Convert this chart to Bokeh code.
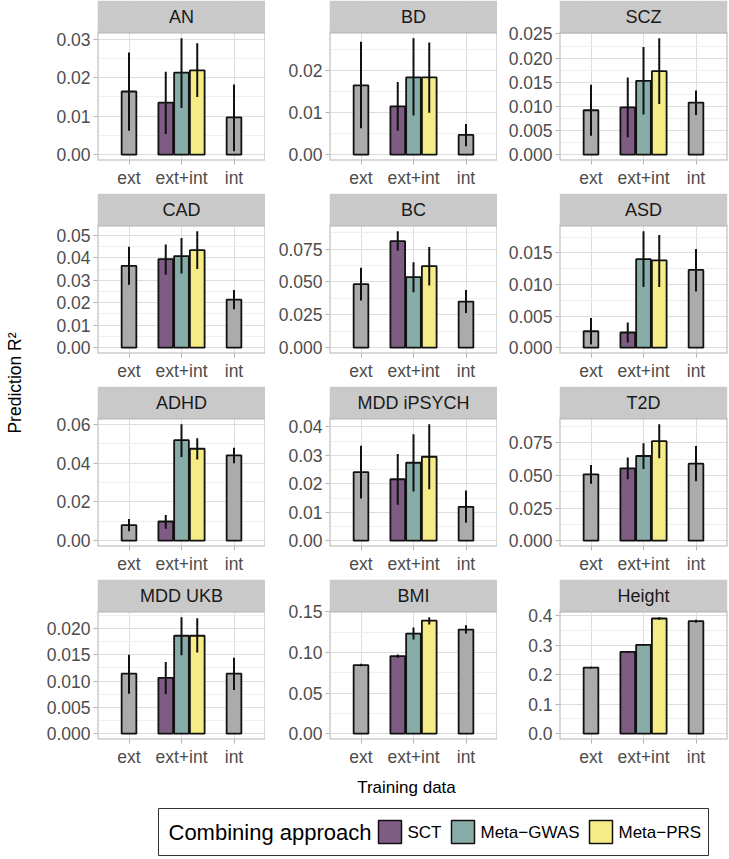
import math
from bokeh.plotting import figure
from bokeh.layouts import row, column
from bokeh.models import Range1d, FixedTicker, ColumnDataSource, PrintfTickFormatter
from bokeh.core.properties import value
from bokeh.embed import file_html
from bokeh.resources import INLINE

# ---------------- data ----------------
traits = ["AN", "BD", "SCZ", "CAD", "BC", "ASD",
          "ADHD", "MDD iPSYCH", "T2D", "MDD UKB", "BMI", "Height"]
categories = ["ext", "ext+int", "int"]
approaches = ["SCT", "Meta\u2212GWAS", "Meta\u2212PRS"]

ext_r2 = [0.0164, 0.0165, 0.0092, 0.0364, 0.0483, 0.0026, 0.0080, 0.0241, 0.0509, 0.0114, 0.0846, 0.224]
ext_lo = [0.0062, 0.0063, 0.0039, 0.0280, 0.0359, 0.0005, 0.0048, 0.0148, 0.0436, 0.0076, 0.0830, 0.221]
ext_hi = [0.0265, 0.0269, 0.0145, 0.0449, 0.0608, 0.0047, 0.0112, 0.0334, 0.0580, 0.0150, 0.0862, 0.227]

sct_r2 = [0.0135, 0.0115, 0.0098, 0.0394, 0.0810, 0.0024, 0.0099, 0.0216, 0.0555, 0.0106, 0.0956, 0.277]
sct_lo = [0.0054, 0.0057, 0.0036, 0.0325, 0.0738, 0.0008, 0.0061, 0.0126, 0.0471, 0.0075, 0.0932, 0.274]
sct_hi = [0.0215, 0.0173, 0.0160, 0.0459, 0.0885, 0.0040, 0.0133, 0.0305, 0.0638, 0.0136, 0.0977, 0.280]

metagwas_r2 = [0.0213, 0.0184, 0.0153, 0.0408, 0.0536, 0.0140, 0.0518, 0.0274, 0.0649, 0.0186, 0.1234, 0.301]
metagwas_lo = [0.0121, 0.0093, 0.0083, 0.0330, 0.0421, 0.0096, 0.0431, 0.0173, 0.0550, 0.0149, 0.1161, 0.298]
metagwas_hi = [0.0302, 0.0277, 0.0223, 0.0488, 0.0650, 0.0184, 0.0600, 0.0374, 0.0747, 0.0221, 0.1308, 0.304]

metaprs_r2 = [0.0219, 0.0184, 0.0173, 0.0434, 0.0620, 0.0138, 0.0474, 0.0295, 0.0763, 0.0186, 0.1394, 0.390]
metaprs_lo = [0.0150, 0.0100, 0.0105, 0.0350, 0.0473, 0.0096, 0.0418, 0.0181, 0.0631, 0.0154, 0.1345, 0.386]
metaprs_hi = [0.0289, 0.0267, 0.0241, 0.0518, 0.0765, 0.0178, 0.0528, 0.0409, 0.0892, 0.0219, 0.1434, 0.394]

int_r2 = [0.0097, 0.0047, 0.0108, 0.0214, 0.0351, 0.0123, 0.0440, 0.0119, 0.0590, 0.0114, 0.1283, 0.381]
int_lo = [0.0009, 0.0020, 0.0082, 0.0171, 0.0264, 0.0089, 0.0399, 0.0063, 0.0456, 0.0083, 0.1234, 0.376]
int_hi = [0.0182, 0.0073, 0.0133, 0.0257, 0.0439, 0.0156, 0.0479, 0.0176, 0.0725, 0.0144, 0.1336, 0.386]

tick_steps = [0.01, 0.01, 0.005, 0.01, 0.025, 0.005, 0.02, 0.01, 0.025, 0.005, 0.05, 0.1]

# ---------------- style ----------------
FONT = "Liberation Sans"
GREY_FILL = "#ABABAB"
APPROACH_FILL = {"SCT": "#7E5C83", "Meta\u2212GWAS": "#88ADA9", "Meta\u2212PRS": "#F5EC86"}
DODGE = {"SCT": -0.3, "Meta\u2212GWAS": 0.0, "Meta\u2212PRS": 0.3}
BAR_W = 0.28
TICK_FS = "17.5px"
STRIP_FS = "18px"
FRAME_W, PANEL_H, STRIP_H, BOTTOM = 168, 128, 32, 33
ROW_H = STRIP_H + PANEL_H + BOTTOM
YT_W = 28
LEFT = [69, 64, 62]
RIGHT = [0, 0, 2]
XLO, XHI = 0.4, 3.6


def panel(i, col):
    cat_x = {c: k + 1 for k, c in enumerate(categories)}
    xs, tops, los, his, fills = [], [], [], [], []
    entries = [("ext", None, ext_r2, ext_lo, ext_hi),
               ("ext+int", approaches[0], sct_r2, sct_lo, sct_hi),
               ("ext+int", approaches[1], metagwas_r2, metagwas_lo, metagwas_hi),
               ("ext+int", approaches[2], metaprs_r2, metaprs_lo, metaprs_hi),
               ("int", None, int_r2, int_lo, int_hi)]
    for cat, appr, r2, lo, hi in entries:
        xs.append(cat_x[cat] + (DODGE[appr] if appr else 0.0))
        tops.append(r2[i]); los.append(lo[i]); his.append(hi[i])
        fills.append(APPROACH_FILL[appr] if appr else GREY_FILL)
    src = ColumnDataSource(dict(x=xs, top=tops, lo=los, hi=his, fill=fills))

    ymax = max(max(his), max(tops))
    y0, y1 = -0.05 * ymax, 1.05 * ymax
    ytop = y1 + (y1 - y0) * STRIP_H / PANEL_H
    step = tick_steps[i]
    dec = len(repr(step).split(".")[1])
    n = int(math.floor(y1 / step + 1e-9))
    majors = [round(k * step, 6) for k in range(0, n + 1)]
    minors = [round((k + 0.5) * step, 6) for k in range(-1, n + 1) if y0 <= (k + 0.5) * step <= y1]

    p = figure(frame_width=FRAME_W, frame_height=PANEL_H + STRIP_H,
               min_border_left=LEFT[col], min_border_right=RIGHT[col],
               min_border_top=0, min_border_bottom=BOTTOM,
               x_range=Range1d(XLO, XHI), y_range=Range1d(y0, ytop),
               toolbar_location=None, output_backend="svg", title=None,
               outline_line_color=None)

    xt = FixedTicker(ticks=[cat_x[c] for c in categories])
    p.xaxis.ticker = xt
    p.xgrid.ticker = xt
    p.xaxis.major_label_overrides = {cat_x[c]: c for c in categories}
    yt = FixedTicker(ticks=majors, minor_ticks=minors)
    p.yaxis.ticker = yt
    p.ygrid.ticker = yt
    p.yaxis.formatter = PrintfTickFormatter(format="%%.%df" % dec)

    p.xgrid.grid_line_color = "#DEDEDE"
    p.ygrid.grid_line_color = "#DEDEDE"
    p.grid.grid_line_width = 1
    p.ygrid.minor_grid_line_color = "#EFEFEF"
    p.ygrid.minor_grid_line_width = 1

    p.axis.axis_line_color = None
    p.axis.major_tick_line_color = "#B3B3B3"
    p.axis.major_tick_out = 4
    p.axis.major_tick_in = 0
    p.axis.minor_tick_line_color = None
    p.axis.major_label_text_font = FONT
    p.axis.major_label_text_font_size = TICK_FS
    p.axis.major_label_text_color = "#4D4D4D"
    p.axis.major_label_standoff = 3

    p.vbar(x="x", top="top", bottom=0, width=BAR_W, source=src,
           fill_color="fill", line_color="#111111", line_width=1.8)
    p.segment(x0="x", y0="lo", x1="x", y1="hi", source=src,
              line_color="#111111", line_width=2)

    # panel border
    p.quad(left=[XLO], right=[XHI], bottom=[y0], top=[y1],
           fill_color=None, line_color="#B3B3B3", line_width=2)
    # facet strip
    p.quad(left=[XLO], right=[XHI], bottom=[y1], top=[ytop],
           fill_color="#C9C9C9", line_color=None)
    p.text(x=[(XLO + XHI) / 2.0], y=[(y1 + ytop) / 2.0], text=[traits[i]],
           text_align="center", text_baseline="middle", text_font=value(FONT),
           text_font_size=STRIP_FS, text_color="#1A1A1A")
    return p


rows = []
for r in range(4):
    rows.append(row(*[panel(r * 3 + c, c) for c in range(3)], spacing=0))
grid = column(*rows, spacing=0)

TOTAL_H = 4 * ROW_H
GRID_W = sum(LEFT) + sum(RIGHT) + 3 * FRAME_W
FULL_W = YT_W + GRID_W

yfig = figure(width=YT_W, height=TOTAL_H, x_range=Range1d(0, YT_W), y_range=Range1d(0, TOTAL_H),
              min_border=0, x_axis_location=None, y_axis_location=None,
              toolbar_location=None, output_backend="svg", title=None, outline_line_color=None)
yfig.grid.visible = False
yc = (STRIP_H + 3 * ROW_H + STRIP_H + PANEL_H) / 2.0 - 3
yfig.text(x=[YT_W / 2.0], y=[TOTAL_H - yc], text=["Prediction R²"], angle=math.pi / 2,
          text_align="center", text_baseline="middle", text_font=value(FONT),
          text_font_size="17.5px", text_color="#000000")

XF_H = 30
xfig = figure(width=FULL_W, height=XF_H, x_range=Range1d(0, FULL_W), y_range=Range1d(0, XF_H),
              min_border=0, x_axis_location=None, y_axis_location=None,
              toolbar_location=None, output_backend="svg", title=None, outline_line_color=None)
xfig.grid.visible = False
frame_l = YT_W + LEFT[0]
frame_r = FULL_W - RIGHT[2]
xfig.text(x=[(frame_l + frame_r) / 2.0 - 6], y=[XF_H / 2.0], text=["Training data"],
          text_align="center", text_baseline="middle", text_font=value(FONT),
          text_font_size="17px", text_color="#000000")

# legend
LEG_H = 57
lfig = figure(width=FULL_W, height=LEG_H, x_range=Range1d(0, FULL_W), y_range=Range1d(LEG_H, 0),
              min_border=0, x_axis_location=None, y_axis_location=None,
              toolbar_location=None, output_backend="svg", title=None, outline_line_color=None)
lfig.grid.visible = False
bx0, bw, by0, bh = 158, 550, 6, 47
lfig.quad(left=[bx0], right=[bx0 + bw], top=[by0], bottom=[by0 + bh],
          fill_color=None, line_color="#333333", line_width=1)
lfig.text(x=[bx0 + 10], y=[by0 + bh / 2.0], text=["Combining approach"],
          text_align="left", text_baseline="middle", text_font=value(FONT),
          text_font_size="22px", text_color="#000000")
key_off = [220, 293, 431]
for a, ko in zip(approaches, key_off):
    kx = bx0 + ko
    lfig.quad(left=[kx], right=[kx + 23], top=[by0 + 12], bottom=[by0 + 35],
              fill_color=APPROACH_FILL[a], line_color="#111111", line_width=1.5)
    lfig.text(x=[kx + 29], y=[by0 + bh / 2.0], text=[a],
              text_align="left", text_baseline="middle", text_font=value(FONT),
              text_font_size="17px", text_color="#000000")

layout = column(row(yfig, grid, spacing=0), xfig, lfig, spacing=0)

open("out.html", "w").write(file_html(layout, INLINE))
